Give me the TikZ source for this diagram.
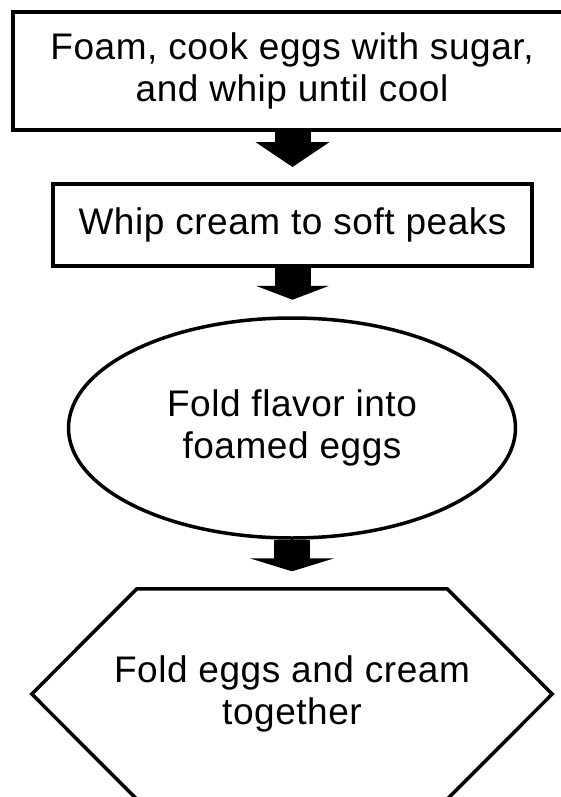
\documentclass[tikz,border=0pt]{standalone}
\usepackage{fontspec}
\setmainfont{Liberation Sans}[LetterSpace=1.5]
\usetikzlibrary{arrows.meta,shapes.geometric}

\begin{document}
\begin{tikzpicture}[x=1pt, y=-1pt,
	every node/.style={font=\fontsize{37}{42}\selectfont, align=center, inner sep=0pt},
	stepbox/.style={draw, line width=4pt, minimum width=#1},
	flowarrow/.style 2 args={line width=36pt, -{Triangle[length=#1, width=#2]}}]
	\useasboundingbox[fill=white] (0,0) rectangle (560,797);
	\node[stepbox=558pt, minimum height=118pt] (foam) at (292,71) {Foam, cook eggs with sugar,\\and whip until cool};
	\node[stepbox=479pt, minimum height=82pt] (cream) at (292.5,225) {Whip cream to soft peaks};
	\node[draw, ellipse, line width=3.5pt, minimum width=447pt, minimum height=220pt] (flavor) at (292,428) {Fold flavor into\\foamed eggs};
	\node[minimum width=520pt, minimum height=210pt] (fold) at (292,694) {Fold eggs and cream\\together};
	\draw[line width=3.5pt, line join=miter] (fold.west) -- ([xshift=105pt]fold.north west) -- ([xshift=-105pt]fold.north east)
		-- (fold.east) -- ([xshift=-105pt]fold.south east) -- ([xshift=105pt]fold.south west) -- cycle;
	% block arrows between the steps
	\draw[flowarrow={25pt}{73pt}, shorten >=15pt] ([xshift=0.5pt]foam.south) -- ([xshift=0.5pt]foam.south |- cream.north);
	\draw[flowarrow={14pt}{73pt}, shorten >=16.5pt] (cream.south) -- (cream.south |- flavor.north);
	\draw[flowarrow={13pt}{84pt}, shorten >=17.5pt] (flavor.south) -- (flavor.south |- fold.north);
\end{tikzpicture}
\end{document}
